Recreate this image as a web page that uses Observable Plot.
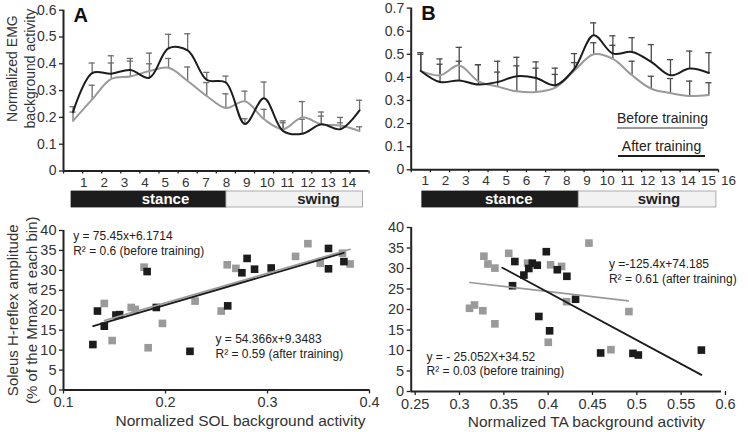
<!DOCTYPE html>
<html><head><meta charset="utf-8">
<script src="https://cdn.jsdelivr.net/npm/d3@7"></script>
<script src="https://cdn.jsdelivr.net/npm/@observablehq/plot@0.6"></script>
<style>
body{margin:0;background:#fff;}
#fig{position:relative;width:748px;height:432px;overflow:hidden;font-family:Arial,"Liberation Sans",sans-serif;color:#222;}
.leg{position:absolute;width:87px;font-size:14px;line-height:16px;text-align:center;color:#222;white-space:nowrap;}
</style></head><body>
<div id="fig"></div>
<script>
// ---------- Data ----------
const bins = [1,2,3,4,5,6,7,8,9,10,11,12,13,14,15,16];
const binBounds = [0.5,1.5,2.5,3.5,4.5,5.5,6.5,7.5,8.5,9.5,10.5,11.5,12.5,13.5,14.5,15.5,16.5];

// Panel A: soleus EMG (mean and mean+SD)
const solBefore    = [0.187,0.267,0.344,0.353,0.373,0.385,0.336,0.28,0.235,0.26,0.193,0.156,0.2,0.174,0.17,0.149];
const solBeforeTop = [0.22,0.32,0.403,0.41,0.40,0.42,0.388,0.33,0.288,0.298,0.23,0.18,0.259,0.22,0.2,0.165];
const solAfter     = [0.22,0.365,0.363,0.377,0.348,0.458,0.45,0.34,0.33,0.175,0.271,0.149,0.139,0.174,0.156,0.226];
const solAfterTop  = [0.24,0.403,0.43,0.42,0.44,0.51,0.512,0.368,0.354,0.195,0.332,0.187,0.193,0.205,0.18,0.264];

// Panel B: TA EMG
const taBefore    = [0.428,0.409,0.452,0.383,0.36,0.34,0.337,0.356,0.43,0.5,0.48,0.409,0.351,0.332,0.32,0.324];
const taBeforeTop = [0.5,0.457,0.47,0.455,0.423,0.45,0.44,0.413,0.464,0.55,0.539,0.47,0.405,0.395,0.384,0.377];
const taAfter     = [0.428,0.38,0.387,0.369,0.38,0.405,0.397,0.366,0.438,0.582,0.503,0.51,0.467,0.409,0.438,0.419];
const taAfterTop  = [0.507,0.48,0.53,0.455,0.47,0.487,0.467,0.44,0.503,0.636,0.58,0.572,0.542,0.477,0.514,0.507];

// tick labels
const aBinLabels = [1,2,3,4,5,6,7,8,9,10,11,12,13,14];
const bBinLabels = [1,2,3,4,5,6,7,8,9,10,11,12,13,14,15,16];
const aYTicks = [0,0.1,0.2,0.3,0.4,0.5,0.6];
const bYTicks = [0,0.1,0.2,0.3,0.4,0.5,0.6,0.7];
const hYTicks = [0,5,10,15,20,25,30,35,40];
const solXTicks = [0.1,0.2,0.3,0.4];
const taXTicks = [0.25,0.3,0.35,0.4,0.45,0.5,0.55,0.6];

// gait phases (in bin units)
const aPhases = [{phase:"stance", start:0.92, end:9.03}, {phase:"swing", start:9.03, end:16.18}];
const bPhases = [{phase:"stance", start:1.08, end:9.22}, {phase:"swing", start:9.22, end:16.39}];

// Scatter: SOL background vs H-reflex
const solXBefore = [0.140,0.1477,0.1664,0.1703,0.179,0.183,0.197,0.229,0.2546,0.2605,0.269,0.3275,0.3396,0.3517,0.3735,0.381];
const solYBefore = [21.7,12.4,20.7,20.2,30.8,10.6,16.7,22.3,19.8,31.4,30.5,33.5,36.7,31.8,34.3,31.6];
const solXAfter  = [0.1288,0.1333,0.140,0.1514,0.155,0.182,0.191,0.224,0.261,0.2749,0.280,0.2873,0.3036,0.3598,0.3598,0.3749];
const solYAfter  = [11.4,19.8,16.0,18.8,18.9,29.7,20.7,9.7,21.1,29.4,33.0,30.3,30.6,35.5,30.4,32.2];
const solFitBeforeX = [0.14,0.381],   solFitBeforeY = [17.4,35.3];
const solFitAfterX  = [0.1291,0.3748], solFitAfterY = [16.0,34.4];

// Scatter: TA background vs H-reflex
const taXBefore = [0.3158,0.3214,0.3308,0.332,0.3365,0.3444,0.3444,0.360,0.3813,0.4072,0.4046,0.4196,0.4253,0.4505,0.4956,0.4753];
const taYBefore = [20.3,21.1,19.7,33.0,31.1,30.1,16.5,33.7,31.3,30.9,12.0,30.5,21.9,36.2,19.5,10.2];
const taXAfter  = [0.3669,0.3643,0.3771,0.3827,0.3866,0.3922,0.394,0.4024,0.4061,0.4148,0.4256,0.4354,0.4637,0.5001,0.5062,0.5773];
const taYAfter  = [31.7,25.8,28.4,30.0,31.3,30.8,18.3,34.1,14.8,29.7,28.1,22.5,9.4,9.3,8.9,10.1];
const taFitBeforeX = [0.316,0.495],   taFitBeforeY = [26.6,22.1];
const taFitAfterX  = [0.3527,0.5773], taFitAfterY  = [30.2,4.06];

// ---------- Drawing ----------
const BLACK = "#1c1c1c", GRAY = "#9a9a9a", AXIS = "#222", TXT = "#333";
const FONT = "Arial, 'Liberation Sans', sans-serif";
const fmt = d3.format("~g");
const fig = document.getElementById("fig");
function place(node, left, top){ node.style.position="absolute"; node.style.left=left+"px"; node.style.top=top+"px"; fig.append(node); }
const style = {background:"none", fontFamily:FONT, fontSize:"14px", color:TXT, overflow:"visible"};

function yTitle(lines, dxs, dy, size){
  return lines.map((t,i) => Plot.text([t], {frameAnchor:"left", rotate:-90, dx:dxs[i], dy, lineAnchor:"middle", textAnchor:"middle", fontSize:size, fill:TXT}));
}

function emgPanel(o){
  const toBin = k => 0.5 + (k - o.labelDomain[0]) * 16 / (o.labelDomain[1] - o.labelDomain[0]);
  const rows = (m, t, s) => bins.map((b,i) => ({bin:b, mean:m[i], top:t[i], series:s}));
  const data = [...rows(o.before, o.beforeTop, "before"), ...rows(o.after, o.afterTop, "after")];
  const H = 190;
  return Plot.plot({
    width: 374, height: H,
    marginLeft: o.ml, marginRight: o.mr, marginTop: o.mt, marginBottom: H - o.y0,
    x: {domain:[0.5,16.5], axis:null},
    y: {domain:[0,o.yMax], axis:null},
    style,
    marks: [
      Plot.axisY({ticks:o.yTicks, tickFormat:fmt, tickSize:4, tickPadding:3, fontSize:14, stroke:AXIS, fill:TXT, strokeWidth:1.3, label:null}),
      Plot.axisX({ticks:binBounds, tickSize:3, tickFormat:()=>"", stroke:AXIS, strokeWidth:1.3, label:null}),
      Plot.text(o.labels, {x:k=>toBin(k), text:k=>String(k), frameAnchor:"bottom", lineAnchor:"top", dy:6, fontSize:13.5, fill:TXT}),
      Plot.ruleX(data, {x:"bin", y1:"mean", y2:"top", stroke:o.barColor, strokeWidth:1.3}),
      Plot.ruleY(data, {y:"top", x1:d=>d.bin-0.16, x2:d=>d.bin+0.16, stroke:o.barColor, strokeWidth:1.3}),
      Plot.line(data.filter(d=>d.series==="before"), {x:"bin", y:"mean", stroke:GRAY, strokeWidth:2, curve:"catmull-rom"}),
      Plot.line(data.filter(d=>d.series==="after"), {x:"bin", y:"mean", stroke:BLACK, strokeWidth:2, curve:"catmull-rom"}),
      Plot.ruleX([0.5], {stroke:AXIS, strokeWidth:2}),
      Plot.ruleY([0], {stroke:AXIS, strokeWidth:2}),
      Plot.text([o.letter], {frameAnchor:"top-left", dx:10, dy:-2, lineAnchor:"top", fontSize:20, fontWeight:"bold", fill:"#111"}),
      ...(o.ytitle ? yTitle(o.ytitle, [-51,-33], -22, 14) : [])
    ]
  });
}

function phaseBar(o){
  return Plot.plot({
    width:374, height:16, marginLeft:o.ml, marginRight:o.mr, marginTop:0, marginBottom:0,
    x:{domain:[0.5,16.5], axis:null}, style,
    marks:[
      Plot.rect(o.phases, {x1:"start", x2:"end", fill:d=>d.phase==="stance"?BLACK:"#f2f2f2", stroke:d=>d.phase==="stance"?BLACK:"#9a9a9a", strokeWidth:0.8}),
      Plot.text(o.phases, {x:(d,i)=>d.start+o.textAt[i]*(d.end-d.start), text:"phase", fill:d=>d.phase==="stance"?"#fff":"#222", fontWeight:"bold", fontSize:15})
    ]
  });
}

function scatterPanel(o){
  const pts = (xs, ys, s) => xs.map((x,i)=>({x, y:ys[i], series:s}));
  const before = pts(o.xb, o.yb, "before"), after = pts(o.xa, o.ya, "after");
  const fit = (xs, ys) => xs.map((x,i)=>({x, y:ys[i]}));
  const H = 212;
  return Plot.plot({
    width:374, height:H, marginLeft:o.ml, marginRight:o.mr, marginTop:o.mt, marginBottom:H-o.y0,
    x:{domain:o.xDomain, axis:null}, y:{domain:[0,40], axis:null}, style,
    marks:[
      Plot.axisY({ticks:hYTicks, tickFormat:fmt, tickSize:4, tickPadding:3, fontSize:14.5, stroke:AXIS, fill:TXT, strokeWidth:1.3, label:null}),
      Plot.axisX({ticks:o.xTicks, tickFormat:fmt, tickSize:4, tickPadding:3, fontSize:14.5, stroke:AXIS, fill:TXT, strokeWidth:1.3, label:null, dx:o.tickDx||0}),
      Plot.ruleX([o.xDomain[0]], {stroke:AXIS, strokeWidth:2}),
      Plot.ruleY([0], {stroke:AXIS, strokeWidth:2}),
      Plot.dot(before, {x:"x", y:"y", symbol:"square", r:4.3, fill:GRAY, stroke:null}),
      Plot.dot(after, {x:"x", y:"y", symbol:"square", r:4.3, fill:BLACK, stroke:null}),
      Plot.line(fit(o.fbx, o.fby), {x:"x", y:"y", stroke:GRAY, strokeWidth:1.6}),
      Plot.line(fit(o.fax, o.fay), {x:"x", y:"y", stroke:BLACK, strokeWidth:1.8}),
      ...o.notes.map(n => Plot.text([n.text], {x:()=>n.x, y:()=>n.y, textAnchor:"start", lineAnchor:"middle", fontSize:12, lineHeight:n.lh, fill:"#222"})),
      Plot.text([o.xtitle], {frameAnchor:"bottom", dx:o.xtDx, dy:31, lineAnchor:"middle", fontSize:15.5, fill:TXT}),
      ...(o.ytitle ? yTitle(o.ytitle, [-50,-31], 0, 15) : [])
    ]
  });
}

place(emgPanel({letter:"A", before:solBefore, beforeTop:solBeforeTop, after:solAfter, afterTop:solAfterTop,
  ml:63, mr:5.4, mt:9.7, y0:170.5, yMax:0.6, yTicks:aYTicks, labels:aBinLabels, labelDomain:[0,15],
  barColor:"#6e6e6e", ytitle:["Normalized EMG","background activity"]}), 0, 0);
place(emgPanel({letter:"B", before:taBefore, beforeTop:taBeforeTop, after:taAfter, afterTop:taAfterTop,
  ml:36.7, mr:30, mt:7.6, y0:169.3, yMax:0.7, yTicks:bYTicks, labels:bBinLabels, labelDomain:[0.3,15.5],
  barColor:"#4a4a4a"}), 374, 0);
place(phaseBar({phases:aPhases, ml:63, mr:5.4, textAt:[0.607,0.674]}), 0, 191);
place(phaseBar({phases:bPhases, ml:36.7, mr:30, textAt:[0.553,0.583]}), 374, 191);

place(scatterPanel({xb:solXBefore, yb:solYBefore, xa:solXAfter, ya:solYAfter,
  fbx:solFitBeforeX, fby:solFitBeforeY, fax:solFitAfterX, fay:solFitAfterY,
  ml:63, mr:5, mt:10, y0:169.5, xDomain:[0.1,0.4], xTicks:solXTicks,
  xtitle:"Normalized SOL background activity", xtDx:24,
  ytitle:["Soleus H-reflex amplitude","(% of the Mmax at each bin)"],
  notes:[{text:"y = 75.45x+6.1714\nR\u00b2 = 0.6 (before training)", x:0.1095, y:36.9, lh:1.2},
         {text:"y = 54.366x+9.3483\nR\u00b2 = 0.59 (after training)", x:0.249, y:11.0, lh:1.25}]}), 0, 220);
place(scatterPanel({xb:taXBefore, yb:taYBefore, xa:taXAfter, ya:taYAfter,
  fbx:taFitBeforeX, fby:taFitBeforeY, fax:taFitAfterX, fay:taFitAfterY,
  ml:36.7, mr:27, mt:7, y0:171, xDomain:[0.25,0.6], xTicks:taXTicks, tickDx:4,
  xtitle:"Normalized TA background activity", xtDx:20,
  notes:[{text:"y = - 25.052X+34.52\nR\u00b2 = 0.03 (before training)", x:0.2673, y:6.9, lh:1.2},
         {text:"y =-125.4x+74.185\nR\u00b2 = 0.61 (after training)", x:0.473, y:29.4, lh:1.2}]}), 374, 220);

// Legend for panel B
const legB = document.createElement("div"); legB.className="leg"; legB.textContent="Before training";
legB.style.left="617px"; legB.style.top="110px"; legB.style.paddingBottom="1px"; legB.style.borderBottom="2px solid "+GRAY; fig.append(legB);
const legA = document.createElement("div"); legA.className="leg"; legA.textContent="After training";
legA.style.left="618px"; legA.style.top="137.5px"; legA.style.paddingBottom="1.5px"; legA.style.borderBottom="2px solid "+BLACK; fig.append(legA);
</script>
</body></html>
